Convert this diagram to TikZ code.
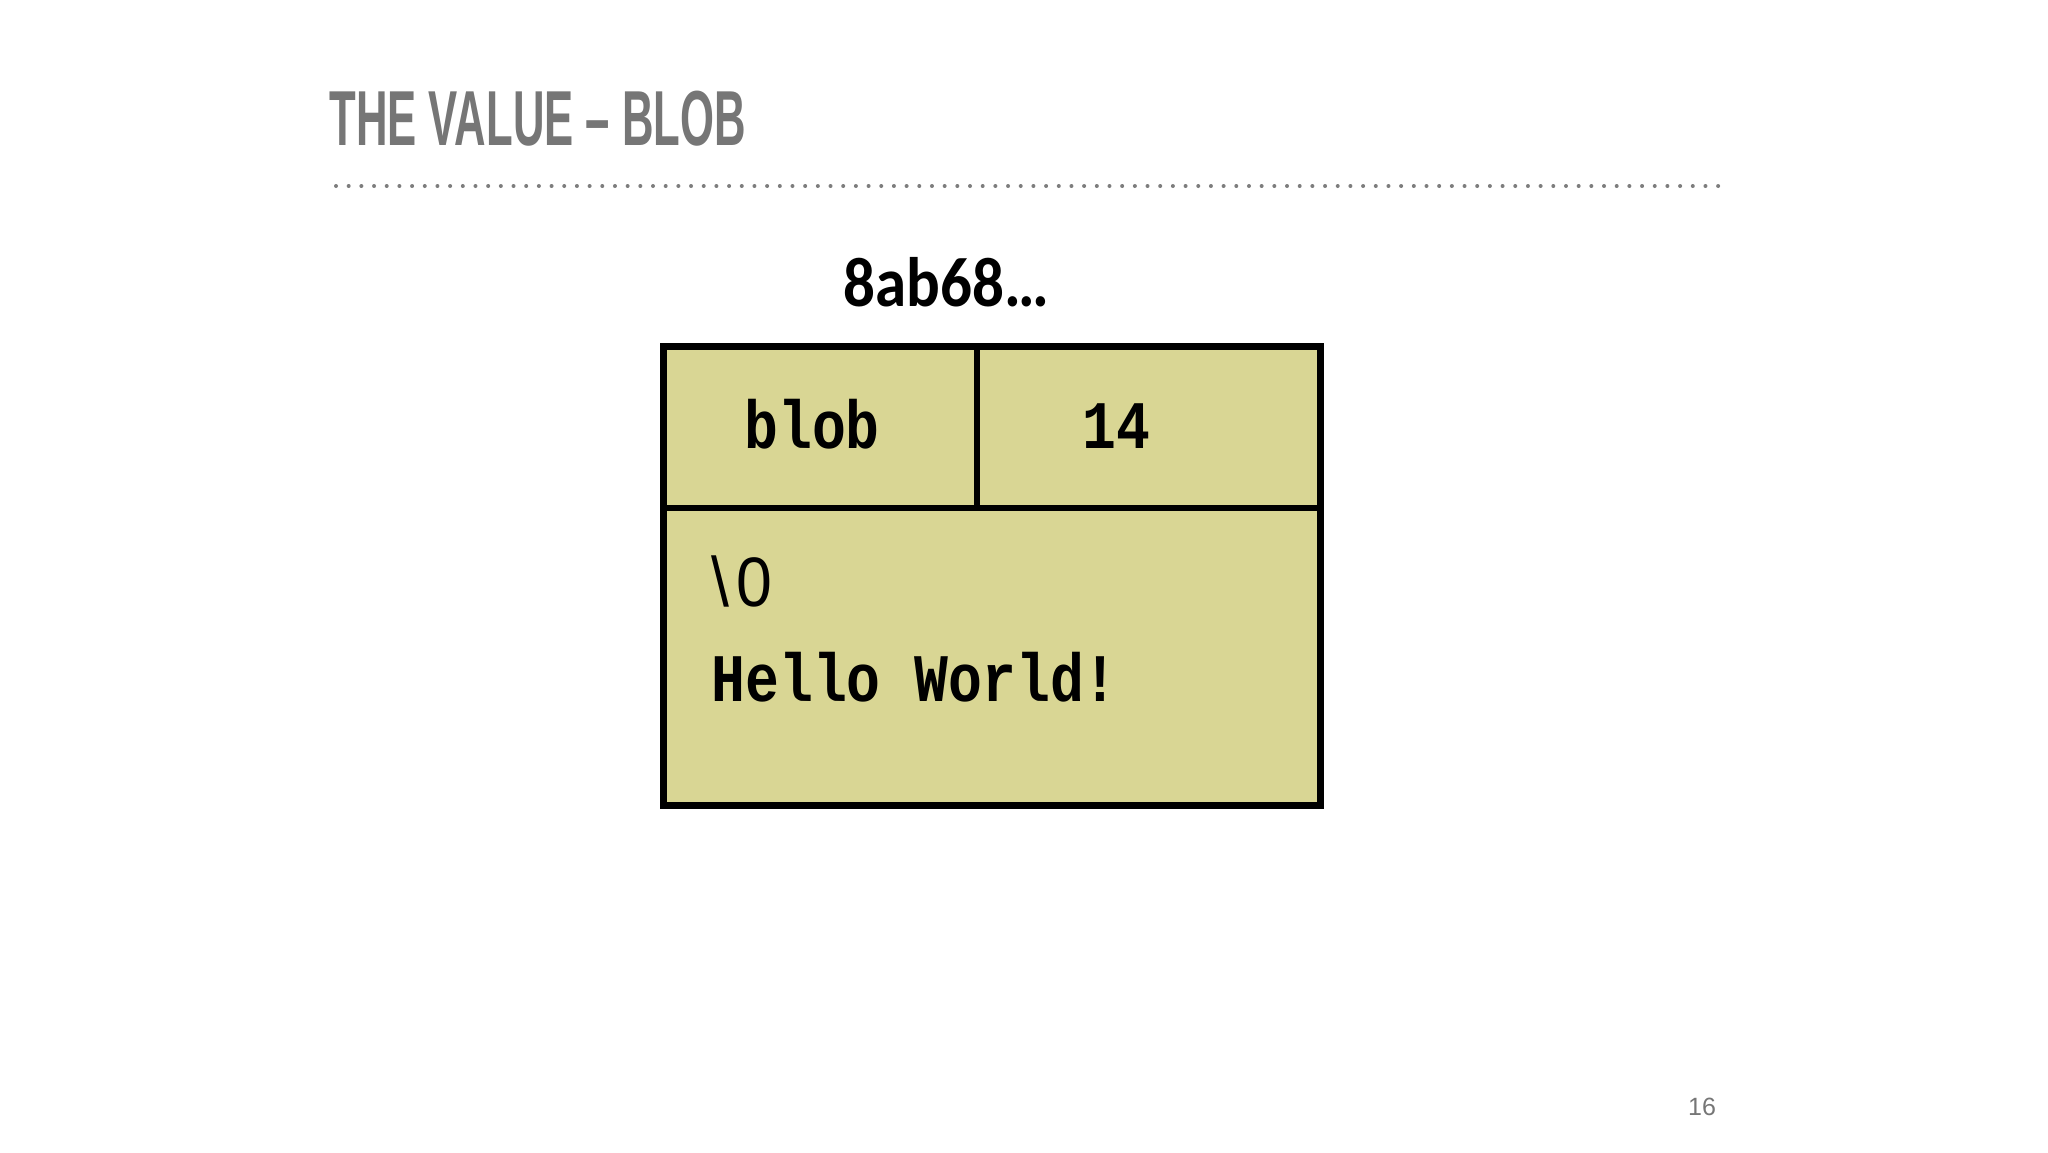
\documentclass[tikz,border=0pt]{standalone}
\usepackage{fontspec}
\setmainfont{Liberation Sans}
\newfontfamily\titlefont[FakeStretch=0.56]{Liberation Sans}
\newfontfamily\hashfont[FakeStretch=0.9]{Carlito}
\newfontfamily\monofont[FakeStretch=0.83]{Liberation Mono}
\newfontfamily\escfont[FakeStretch=0.92]{Liberation Sans}
\definecolor{titlegray}{RGB}{118,118,118}
\definecolor{dotgray}{RGB}{125,125,125}
\definecolor{khaki}{RGB}{217,214,148}
\tikzset{
  titletext/.style={anchor=base west, inner sep=0pt, text=titlegray, font=\titlefont\bfseries\fontsize{39}{44}\selectfont},
  hashtext/.style={anchor=base, inner sep=0pt, font=\hashfont\bfseries\fontsize{35}{40}\selectfont},
  celltext/.style={anchor=base, inner sep=0pt, font=\monofont\bfseries\fontsize{34}{40}\selectfont},
  bodytext/.style={anchor=base west, inner sep=0pt, font=\monofont\bfseries\fontsize{34}{40}\selectfont},
  escapetext/.style={anchor=base west, inner sep=0pt, font=\escfont\fontsize{35}{40}\selectfont},
  pagetext/.style={anchor=base, inner sep=0pt, text=titlegray, font=\fontsize{12.5}{14}\selectfont},
  boxline/.style={draw=black, line width=3.5pt},
  divline/.style={draw=black, line width=2.6pt},
  dotline/.style={draw=dotgray, line width=2pt, line cap=round, dash pattern=on 0pt off 6.34pt}
}
\begin{document}
\begin{tikzpicture}[x=0.5pt,y=-0.5pt]
\useasboundingbox (0,0) rectangle (2048,1152);
% title
\node[titletext] (title) at (329,145) {THE VALUE – BLOB};
\coordinate (dotA) at (336,186);
\coordinate (dotB) at (1722,186);
\draw[dotline] (dotA) -- (dotB);
% hash
\node[hashtext] (hash) at (946,306) {8ab68…};
% box
\fill[khaki] (663,346) rectangle (1320,805);
\coordinate (vtop) at (977,346);
\coordinate (vbot) at (977,508);
\coordinate (hleft) at (663,508);
\coordinate (hright) at (1320,508);
\draw[divline] (vtop) -- (vbot);
\draw[divline] (hleft) -- (hright);
\draw[boxline] (663,346) rectangle (1320,805);
% texts
\node[celltext] (type) at (812,448) {blob};
\node[celltext] (size) at (1116,448) {14};
\node[escapetext] (nul) at (711,606) {\textbackslash\kern3.5pt 0};
\node[bodytext] (content) at (711,701) {Hello World!};
\node[pagetext] (page) at (1702,1115) {16};
\end{tikzpicture}
\end{document}
